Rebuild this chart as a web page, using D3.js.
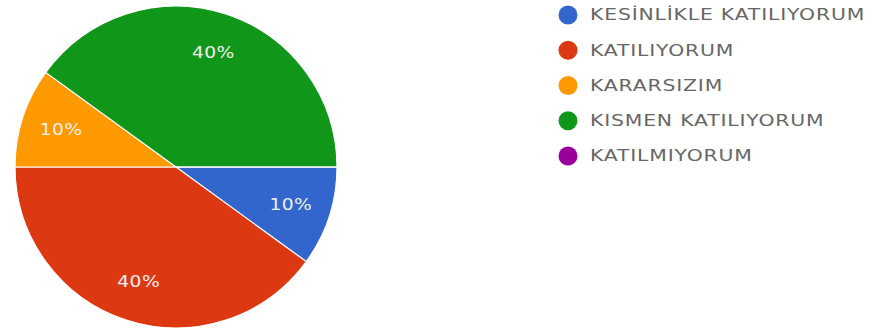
<!DOCTYPE html>
<html><head><meta charset="utf-8">
<script src="https://cdn.jsdelivr.net/npm/d3@7"></script>
<style>body{margin:0;background:#fff}svg{display:block}</style>
</head><body>
<svg id="c" width="873" height="336"></svg>
<script>
const categories = ["KESİNLİKLE KATILIYORUM","KATILIYORUM","KARARSIZIM","KISMEN KATILIYORUM","KATILMIYORUM"];
const values = [10, 40, 10, 40, 0];
const colors = ["#3366cc","#dc3912","#ff9900","#109618","#990099"];

const svg = d3.select("#c");
const cx = 176, cy = 167, R = 161;
const g = svg.append("g").attr("transform", `translate(${cx},${cy})`);
const total = d3.sum(values);
const pie = d3.pie().value(d => d).sort(null).startAngle(Math.PI/2).endAngle(Math.PI/2 + 2*Math.PI);
const arcs = pie(values);
const arc = d3.arc().innerRadius(0).outerRadius(R);
const labelArc = d3.arc().innerRadius(R*0.75).outerRadius(R*0.75);
const color = d3.scaleOrdinal().domain(categories).range(colors);

g.selectAll("path").data(arcs).join("path")
  .attr("d", arc)
  .attr("fill", (d,i) => color(categories[i]))
  .attr("stroke", "#fff").attr("stroke-width", 1.2);

g.selectAll("text").data(arcs.filter(d => d.data > 0)).join("text")
  .attr("transform", d => `translate(${labelArc.centroid(d)}) scale(1.25,1)`)
  .attr("text-anchor", "middle").attr("dy", "0.36em")
  .attr("fill", "#f0f0f0").style("font-family", "'DejaVu Sans', sans-serif")
  .style("font-size", "15px").style("letter-spacing", "0.3px")
  .text(d => d3.format(".0%")(d.data / total));

const legendY = d3.scalePoint().domain(categories).range([15, 156]);
const lg = svg.append("g");
const item = lg.selectAll("g").data(categories).join("g")
  .attr("transform", d => `translate(568,${legendY(d)})`);
item.append("circle").attr("r", 9.5).attr("fill", d => color(d));
item.append("text").attr("transform", "translate(22,0) scale(1.36,1)").attr("dy", "0.36em")
  .attr("fill", "#666").style("font-family", "'DejaVu Sans', sans-serif")
  .style("font-size", "15px").style("letter-spacing", "0.6px")
  .text(d => d);
</script>
</body></html>
